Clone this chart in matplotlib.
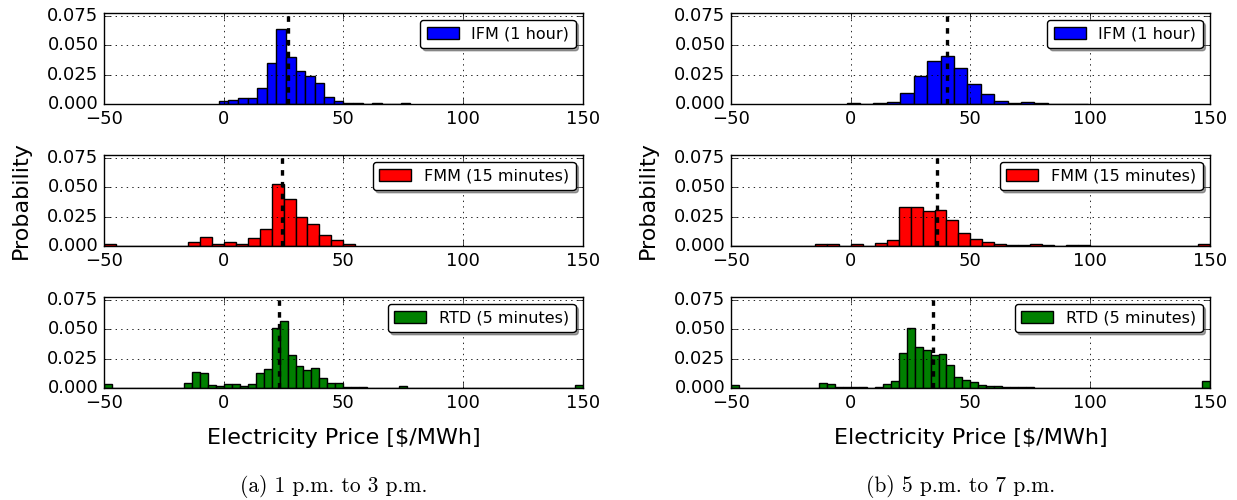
import numpy as np
import matplotlib
matplotlib.use("Agg")
import matplotlib.pyplot as plt

plt.style.use("classic")
plt.rcParams["lines.scale_dashes"] = False

# ---- (a) 1 p.m. to 3 p.m. ----
# IFM: bins of width 4 starting at -2
ifm_a_start, ifm_a_width = -2.0, 4.0
ifm_a = [0.0029, 0.0037, 0.0054, 0.0049, 0.0135, 0.035, 0.064, 0.040, 0.028, 0.024,
         0.0175, 0.006, 0.0029, 0.0006, 0.001, 0.0003, 0.0005, 0.0002, 0.0002, 0.0005]
# FMM: bins of width 5 starting at -50
fmm_a_start, fmm_a_width = -50.0, 5.0
fmm_a = [0.0017, 0, 0, 0, 0, 0.0002, 0.0004, 0.0038, 0.0078, 0.002,
         0.003, 0.002, 0.007, 0.0148, 0.053, 0.040, 0.0244, 0.0186, 0.0096, 0.0047,
         0.0015]
# RTD: 60 bins between -50 and 150
rtd_a_start, rtd_a_width = -50.0, 200.0 / 60
rtd_a = [0.0032, 0, 0, 0, 0, 0, 0, 0.0002, 0.0003, 0.0003,
         0.004, 0.0135, 0.0126, 0.0029, 0.0017, 0.0037, 0.0034, 0.0017, 0.0034, 0.0124,
         0.016, 0.051, 0.057, 0.028, 0.019, 0.015, 0.017, 0.0083, 0.0043, 0.0046,
         0.0009, 0.0005, 0.0005, 0.0003, 0.0003, 0.0003, 0.0003, 0.0014, 0, 0,
         0, 0, 0, 0, 0, 0, 0, 0, 0, 0,
         0, 0, 0, 0, 0, 0, 0, 0, 0, 0.0026]
median_a = [27.0, 24.4, 23.1]

# ---- (b) 5 p.m. to 7 p.m. ----
ifm_b_start, ifm_b_width = -1.7, 5.6
ifm_b = [0.0006, 0.0003, 0.0011, 0.0017, 0.0092, 0.0236, 0.0362, 0.0405, 0.031, 0.017,
         0.0083, 0.0023, 0.0011, 0.0014, 0.0006, 0.0003, 0.0002, 0.0003]
fmm_b_start, fmm_b_width = -50.0, 5.0
fmm_b = [0, 0, 0, 0, 0, 0, 0, 0.0017, 0.0017, 0.0003,
         0.0013, 0.0003, 0.0026, 0.0055, 0.0334, 0.0334, 0.030, 0.031, 0.0224, 0.0113,
         0.0058, 0.0038, 0.002, 0.0012, 0.0012, 0.0018, 0.0012, 0.0003, 0.0006, 0.0012,
         0.0004, 0.0004, 0, 0, 0, 0, 0, 0, 0, 0.002]
rtd_b_start, rtd_b_width = -50.0, 200.0 / 60
rtd_b = [0.0026, 0, 0, 0, 0, 0, 0, 0, 0, 0,
         0, 0.0043, 0.0034, 0.0006, 0.0006, 0.0012, 0.0006, 0.0003, 0.0012, 0.0035,
         0.0058, 0.030, 0.051, 0.035, 0.032, 0.0285, 0.0288, 0.0195, 0.0093, 0.007,
         0.0049, 0.0029, 0.002, 0.0015, 0.0009, 0.0006, 0.0009, 0.0009, 0.0003, 0,
         0, 0, 0, 0, 0, 0, 0, 0, 0, 0,
         0, 0, 0, 0, 0, 0, 0, 0, 0, 0.0057]
median_b = [40.3, 36.1, 34.2]

labels = ["IFM (1 hour)", "FMM (15 minutes)", "RTD (5 minutes)"]
colors = ["b", "r", "g"]
captions = ["(a) 1 p.m. to 3 p.m.", "(b) 5 p.m. to 7 p.m."]

columns = [
    [(ifm_a_start, ifm_a_width, ifm_a), (fmm_a_start, fmm_a_width, fmm_a), (rtd_a_start, rtd_a_width, rtd_a)],
    [(ifm_b_start, ifm_b_width, ifm_b), (fmm_b_start, fmm_b_width, fmm_b), (rtd_b_start, rtd_b_width, rtd_b)],
]
medians = [median_a, median_b]

fig = plt.figure(figsize=(12.37, 5.0), dpi=100, facecolor="white")

lefts = [0.0841, 0.591]
bottoms = [0.792, 0.508, 0.224]
w, h = 0.387, 0.182

for c in range(2):
    for r in range(3):
        ax = fig.add_axes([lefts[c], bottoms[r], w, h])
        start, width, vals = columns[c][r]
        vals = np.array(vals)
        edges = start + width * np.arange(len(vals))
        ax.bar(edges, vals, width=width, align="edge", color=colors[r],
               edgecolor="k", linewidth=1.0, label=labels[r])
        # median price
        ax.axvline(medians[c][r], color="k", linestyle="--", dashes=(4, 4.5), lw=2.4)
        ax.set_xlim(-50, 150)
        ax.set_ylim(0, 0.0775)
        ax.set_xticks([-50, 0, 50, 100, 150])
        ax.set_yticks([0, 0.025, 0.05, 0.075])
        ax.set_yticklabels(["0.000", "0.025", "0.050", "0.075"])
        ax.tick_params(labelsize=13)
        ax.grid(True, color="k", linestyle=":", linewidth=0.6)
        ax.legend(loc="upper right", fontsize=11.5, fancybox=True, shadow=True,
                  handlelength=2.0, borderaxespad=0.45)
        if r == 1:
            ax.set_ylabel("Probability", fontsize=16, labelpad=12)
        if r == 2:
            ax.set_xlabel("Electricity Price [$/MWh]", fontsize=16, labelpad=12)
    fig.text(lefts[c] + w / 2 - 0.008, 0.028, captions[c], ha="center", va="center",
             fontsize=15.5, fontname="cmr10")

fig.savefig("out.png", dpi=100, facecolor="white")
